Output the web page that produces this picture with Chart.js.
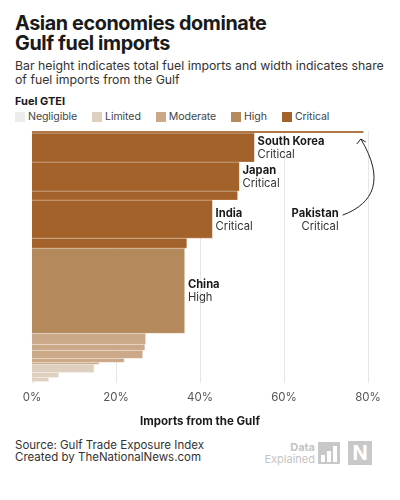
<!DOCTYPE html>
<html>
<head>
<meta charset="utf-8">
<script src="https://cdn.jsdelivr.net/npm/chart.js@4/dist/chart.umd.min.js"></script>
<style>
  body { margin: 0; width: 400px; height: 500px; background: #fff; font-family: Inter, "Noto Sans", sans-serif; color: #1a1a1a; position: relative; overflow: hidden; }
  #title { position: absolute; left: 15px; top: 13px; font-size: 19.8px; font-weight: 700; line-height: 20px; letter-spacing: -0.4px; }
  #subtitle { position: absolute; left: 15px; top: 59px; font-size: 12.3px; line-height: 14px; color: #333; width: 380px; }
  #legend-title { position: absolute; left: 15px; top: 94px; font-size: 11px; font-weight: 700; }
  #legend { position: absolute; left: 15px; top: 110px; display: flex; font-size: 10.6px; color: #444; letter-spacing: -0.1px; }
  #legend .item { display: flex; align-items: center; margin-right: 15px; }
  #legend .sw { width: 10px; height: 10px; margin-right: 3px; }
  #wrap { position: absolute; left: 0; top: 120px; width: 400px; height: 310px; }
  #footer { position: absolute; left: 15px; top: 439px; font-size: 11.5px; line-height: 12px; color: #333; }
  #logo { position: absolute; left: 262px; top: 440px; width: 115px; height: 26px; color: #c4c4c4; }
  #logo .t1 { position: absolute; right: 62px; top: 0; font-size: 11px; font-weight: 700; }
  #logo .t2 { position: absolute; right: 62px; top: 12px; font-size: 11px; }
  #logo .icon { position: absolute; left: 56px; top: 2px; width: 22px; height: 22px; background: #c8c8c8; }
  #logo .icon i { position: absolute; bottom: 2px; width: 4px; background: #fff; }
  #logo .n { position: absolute; left: 86px; top: 1px; width: 24px; height: 24px; background: #c8c8c8; color: #fff; font-weight: 700; font-size: 20px; text-align: center; line-height: 24px; }
</style>
</head>
<body>
<div id="title">Asian economies dominate<br>Gulf fuel imports</div>
<div id="subtitle">Bar height indicates total fuel imports and width indicates share of fuel imports from the Gulf</div>
<div id="legend-title">Fuel GTEI</div>
<div id="legend"></div>
<div id="wrap"><canvas id="chart"></canvas></div>
<div id="footer">Source: Gulf Trade Exposure Index<br>Created by TheNationalNews.com</div>
<div id="logo">
  <div class="t1">Data</div>
  <div class="t2">Explained</div>
  <div class="icon"><i style="left:3px;height:7px"></i><i style="left:9px;height:11px"></i><i style="left:15px;height:16px"></i></div>
  <div class="n">N</div>
</div>
<script>
// bars from top to bottom
const countries = ['Pakistan', 'South Korea', 'Japan', '', 'India', '', 'China', '', '', '', '', '', '', '', '', ''];
const gulfShare = [79, 53, 49.4, 49, 43, 36.9, 36.4, 27.1, 26.9, 26.4, 22, 16, 14.8, 6.4, 4, 0.6];
const totalImports = [2, 29, 29, 9, 38, 10, 85, 11, 6, 8, 4, 2, 8, 5, 4, 2];
const gteiLevel = ['Critical', 'Critical', 'Critical', 'Critical', 'Critical', 'Critical', 'High',
    'Moderate', 'Moderate', 'Moderate', 'Moderate', 'Moderate', 'Limited', 'Limited', 'Limited', 'Negligible'];

const levels = ['Negligible', 'Limited', 'Moderate', 'High', 'Critical'];
const levelColors = ['#ececec', '#dfcfbf', '#cba887', '#b48a5c', '#a3622a'];
const xTicks = [0, 20, 40, 60, 80];

// legend
const legendEl = document.getElementById('legend');
levels.forEach((lvl, i) => {
    const item = document.createElement('div');
    item.className = 'item';
    item.innerHTML = `<span class="sw" style="background:${levelColors[i]}"></span>${lvl}`;
    legendEl.appendChild(item);
});

// cumulative positions on the y scale
let acc = 0;
const bands = totalImports.map(v => {
    const b = { from: acc, to: acc + v };
    acc += v;
    return b;
});
const totalAll = acc;

const datasets = gulfShare.map((s, i) => ({
    data: [
        { x: 0, y: bands[i].from },
        { x: s, y: bands[i].from },
        { x: s, y: bands[i].to },
        { x: 0, y: bands[i].to }
    ],
    backgroundColor: levelColors[levels.indexOf(gteiLevel[i])],
    borderColor: 'rgba(255,255,255,0.4)',
    borderWidth: 0.7,
    fill: 'shape',
    pointRadius: 0,
    tension: 0
}));

const labelPlugin = {
    id: 'barLabels',
    afterDatasetsDraw(chart) {
        const { ctx, scales: { x, y } } = chart;
        ctx.save();
        ctx.textBaseline = 'middle';
        countries.forEach((name, i) => {
            if (!name || name === 'Pakistan') return;
            const px = x.getPixelForValue(gulfShare[i]) + 3;
            const py = y.getPixelForValue((bands[i].from + bands[i].to) / 2);
            ctx.textAlign = 'left';
            ctx.fillStyle = '#1a1a1a';
            ctx.font = '700 11.2px Inter';
            ctx.fillText(name, px, py - 6);
            ctx.fillStyle = '#333';
            ctx.font = '400 11.2px Inter';
            ctx.fillText(gteiLevel[i], px, py + 7);
        });

        // Pakistan callout, placed beside India
        const pi = countries.indexOf('Pakistan');
        const ii = countries.indexOf('India');
        const lx = x.getPixelForValue(73);
        const ly = y.getPixelForValue((bands[ii].from + bands[ii].to) / 2);
        ctx.textAlign = 'right';
        ctx.fillStyle = '#1a1a1a';
        ctx.font = '700 11.2px Inter';
        ctx.fillText(countries[pi], lx, ly - 6);
        ctx.fillStyle = '#333';
        ctx.font = '400 11.2px Inter';
        ctx.fillText(gteiLevel[pi], lx, ly + 7);

        // curved arrow up to the Pakistan bar
        const ex = x.getPixelForValue(gulfShare[pi]) - 3;
        const ey = y.getPixelForValue(bands[pi].to) + 6;
        const sx = lx + 4, sy = ly - 4;
        ctx.strokeStyle = '#222';
        ctx.lineWidth = 1;
        ctx.beginPath();
        ctx.moveTo(sx, sy);
        ctx.bezierCurveTo(sx + 32, sy - 12, ex + 24, ey + 40, ex, ey);
        ctx.stroke();
        ctx.beginPath();
        ctx.moveTo(ex - 4, ey + 5);
        ctx.lineTo(ex, ey);
        ctx.lineTo(ex + 5, ey + 3);
        ctx.stroke();
        ctx.restore();
    }
};

new Chart(document.getElementById('chart'), {
    type: 'line',
    data: { datasets },
    options: {
        responsive: true,
        maintainAspectRatio: false,
        animation: false,
        layout: { padding: { left: 32, right: 32, top: 11, bottom: 2 } },
        plugins: {
            legend: { display: false },
            tooltip: { enabled: false }
        },
        scales: {
            x: {
                type: 'linear',
                min: 0,
                max: 80,
                afterBuildTicks: axis => { axis.ticks = xTicks.map(v => ({ value: v })); },
                grid: { color: '#e6e6e6', drawTicks: false },
                border: { display: false },
                ticks: {
                    padding: 7,
                    color: '#555',
                    font: { family: 'Inter', size: 11.5 },
                    callback: v => v + '%'
                },
                title: {
                    display: true,
                    text: 'Imports from the Gulf',
                    color: '#1a1a1a',
                    font: { family: 'Inter', size: 11.5, weight: '700' },
                    padding: { top: 3, bottom: 0 }
                }
            },
            y: {
                type: 'linear',
                display: false,
                reverse: true,
                min: 0,
                max: totalAll
            }
        }
    },
    plugins: [labelPlugin]
});
</script>
</body>
</html>
